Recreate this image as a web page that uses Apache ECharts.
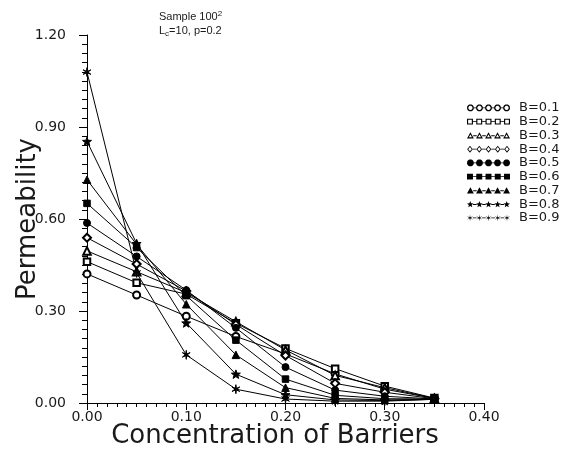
<!DOCTYPE html>
<html>
<head>
<meta charset="utf-8">
<script src="https://cdn.jsdelivr.net/npm/echarts@6/dist/echarts.min.js"></script>
<style>
html,body{margin:0;padding:0;background:#fff;}
#chart{width:561px;height:454px;}
</style>
</head>
<body>
<div id="chart"></div>
<script>
// ---- data ----
const concentration = [0, 0.05, 0.10, 0.15, 0.20, 0.25, 0.30, 0.35];
const seriesNames = ['B=0.1','B=0.2','B=0.3','B=0.4','B=0.5','B=0.6','B=0.7','B=0.8','B=0.9'];
const b01 = [0.421, 0.352, 0.283, 0.217, 0.160, 0.095, 0.045, 0.015];
const b02 = [0.461, 0.392, 0.355, 0.260, 0.178, 0.112, 0.055, 0.016];
const b03 = [0.496, 0.428, 0.360, 0.265, 0.173, 0.090, 0.050, 0.015];
const b04 = [0.539, 0.453, 0.365, 0.256, 0.155, 0.064, 0.035, 0.014];
const b05 = [0.587, 0.478, 0.368, 0.245, 0.117, 0.042, 0.022, 0.013];
const b06 = [0.651, 0.507, 0.350, 0.205, 0.078, 0.025, 0.014, 0.013];
const b07 = [0.728, 0.517, 0.322, 0.157, 0.050, 0.015, 0.010, 0.012];
const b08 = [0.853, 0.520, 0.261, 0.094, 0.027, 0.010, 0.008, 0.012];
const b09 = [1.079, 0.424, 0.157, 0.045, 0.013, 0.006, 0.006, 0.012];
const allValues = [b01,b02,b03,b04,b05,b06,b07,b08,b09];
const markerKinds = ['circle','rect','triangle','diamond','circle','rect','triangle','star','asterisk'];
const markerHollow = [true,true,true,true,false,false,false,false,false];
const yTicks = [0, 0.30, 0.60, 0.90, 1.20];
const xTicks = [0, 0.10, 0.20, 0.30, 0.40];

// ---- marker path helpers ----
function unitShape(kind){
  const p=[];
  if(kind==='circle'){for(let k=0;k<20;k++){const a=k*2*Math.PI/20;p.push([Math.cos(a),Math.sin(a)]);}}
  else if(kind==='rect'){p.push([-0.85,-0.85],[0.85,-0.85],[0.85,0.85],[-0.85,0.85]);}
  else if(kind==='triangle'){p.push([0,-1],[1,0.8],[-1,0.8]);}
  else if(kind==='diamond'){p.push([0,-1],[0.8,0],[0,1],[-0.8,0]);}
  else if(kind==='star'){for(let k=0;k<10;k++){const a=-Math.PI/2+k*Math.PI/5;const r=k%2?0.42:1;p.push([r*Math.cos(a),r*Math.sin(a)]);}}
  else if(kind==='asterisk'){for(let k=0;k<12;k++){const a=-Math.PI/2+k*Math.PI/6;const r=k%2?0.22:1;p.push([r*Math.cos(a),r*Math.sin(a)]);}}
  return p;
}
function polyPath(pts){
  return 'M'+pts.map(q=>q[0].toFixed(3)+' '+q[1].toFixed(3)).join('L')+'Z';
}
function shapePath(kind,hollow,cx,cy,r){
  const u=unitShape(kind);
  const outer=u.map(q=>[cx+q[0]*r,cy+q[1]*r]);
  let d=polyPath(outer);
  if(hollow){
    const c= kind==='triangle'?[0,0.2]:[0,0];
    const s= kind==='triangle'?0.45:0.62;
    const inner=u.map(q=>[cx+(c[0]+(q[0]-c[0])*s)*r,cy+(c[1]+(q[1]-c[1])*s)*r]).reverse();
    d+=polyPath(inner);
  }
  return d;
}
function legendIcon(kind,hollow){
  const r=3.5, W=44, n=5, step=(W-2*r)/(n-1);
  let d='';
  for(let i=0;i<n;i++){
    const cx=r+i*step;
    d+=shapePath(kind,hollow,cx,r,r);
    if(i<n-1){
      const x1=cx+r*0.8, x2=cx+step-r*0.8;
      d+=polyPath([[x1,r-0.45],[x2,r-0.45],[x2,r+0.45],[x1,r+0.45]]);
    }
  }
  return 'path://'+d;
}
function seriesSymbol(kind,hollow){
  if(hollow){return {circle:'emptyCircle',rect:'emptyRect',triangle:'emptyTriangle',diamond:'emptyDiamond'}[kind];}
  if(kind==='star'||kind==='asterisk'){return 'path://'+shapePath(kind,false,1,1,1);}
  return kind;
}
const symbolSizes={circle:7,rect:6.5,triangle:7.5,diamond:8,star:9,asterisk:9};

const FONT='DejaVu Sans';
const TFONT='Liberation Sans';
const TXT='#1a1a1a';
const series = seriesNames.map((name,i)=>({
  name:name,
  type:'line',
  data:concentration.map((x,j)=>[x,allValues[i][j]]),
  symbol:seriesSymbol(markerKinds[i],markerHollow[i]),
  symbolSize:symbolSizes[markerKinds[i]],
  symbolKeepAspect:true,
  showAllSymbol:true,
  lineStyle:{color:'#000',width:1},
  itemStyle:{color:'#000',borderColor:'#000',borderWidth:1},
  emphasis:{disabled:true},
  z:2
}));

const chart = echarts.init(document.getElementById('chart'), null, {renderer:'canvas'});
chart.setOption({
  animation:false,
  backgroundColor:'#fff',
  title:{
    text:'Sample 100{sup|2}\nL{sub|c}=10, p=0.2',
    left:154, top:5,
    textStyle:{fontFamily:TFONT,fontSize:11,fontWeight:'normal',color:TXT,lineHeight:14,
      rich:{sup:{fontFamily:TFONT,fontSize:8,verticalAlign:'top',lineHeight:14,color:TXT,padding:[0,0,6,0]},
            sub:{fontFamily:TFONT,fontSize:8,lineHeight:14,color:TXT,padding:[6,0,0,0]}}}
  },
  legend:{
    orient:'vertical', left:462, top:96,
    itemWidth:43, itemHeight:7, itemGap:0,
    selectedMode:false,
    itemStyle:{color:'#000',borderWidth:0},
    textStyle:{fontFamily:FONT,fontSize:13,color:TXT,lineHeight:13.75,padding:[0,0,0,4]},
    data:seriesNames.map((n,i)=>({name:n,icon:legendIcon(markerKinds[i],markerHollow[i])}))
  },
  grid:{left:87,right:77,top:35,bottom:44,containLabel:false},
  xAxis:{
    type:'value', min:0, max:0.4, interval:0.1,
    name:'Concentration of Barriers', nameLocation:'middle', nameGap:20, nameMoveOverlap:false,
    nameTextStyle:{fontFamily:FONT,fontSize:26,color:TXT,padding:[0,21,0,0]},
    axisLine:{show:true,lineStyle:{color:'#000',width:1}},
    axisTick:{show:true,inside:false,length:7,lineStyle:{color:'#000'}},
    minorTick:{show:true,splitNumber:10,length:4,lineStyle:{color:'#000'}},
    splitLine:{show:false},
    axisLabel:{fontFamily:FONT,fontSize:14,color:TXT,margin:7,formatter:v=>v.toFixed(2)}
  },
  yAxis:{
    type:'value', min:0, max:1.2, interval:0.3,
    name:'Permeability', nameLocation:'middle', nameGap:46, nameMoveOverlap:false,
    nameTextStyle:{fontFamily:FONT,fontSize:26,color:TXT},
    axisLine:{show:true,lineStyle:{color:'#000',width:1}},
    axisTick:{show:true,inside:false,length:8,lineStyle:{color:'#000'}},
    minorTick:{show:true,splitNumber:10,length:5,lineStyle:{color:'#000'}},
    splitLine:{show:false},
    axisLabel:{fontFamily:FONT,fontSize:14,color:TXT,margin:21,formatter:v=>v.toFixed(2)}
  },
  series:series
});
</script>
</body>
</html>
